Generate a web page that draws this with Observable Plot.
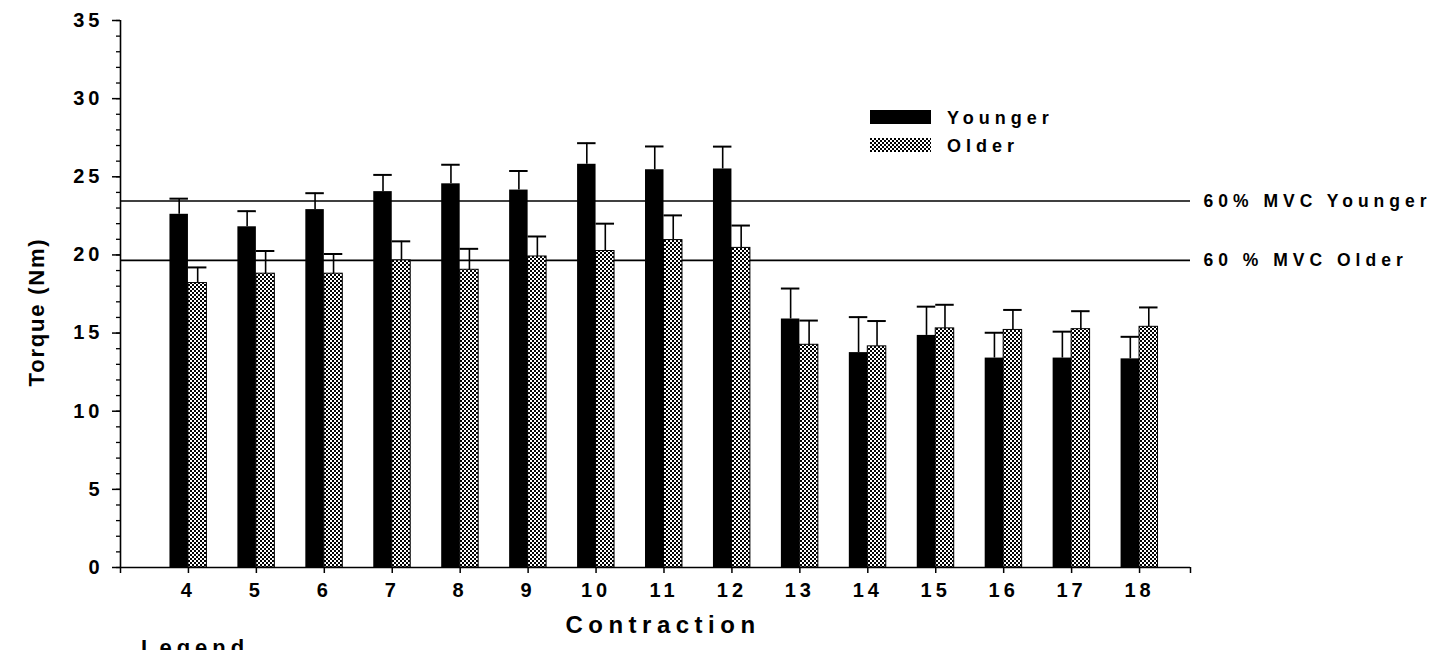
<!DOCTYPE html>
<html><head><meta charset="utf-8">
<script src="https://cdn.jsdelivr.net/npm/d3@7"></script>
<script src="https://cdn.jsdelivr.net/npm/@observablehq/plot@0.6"></script>
<style>
body{margin:0;background:#fff;}
#wrap{position:relative;width:1443px;height:650px;overflow:hidden;}
#wrap svg text{letter-spacing:5px;font-family:"Liberation Sans",Arial,sans-serif;font-weight:bold;}
</style></head><body><div id="wrap"></div>
<script>
// ---- data ----
const contractions = [4, 5, 6, 7, 8, 9, 10, 11, 12, 13, 14, 15, 16, 17, 18];
const younger    = [22.6, 21.8, 22.9, 24.05, 24.55, 24.15, 25.8, 25.45, 25.5, 15.9, 13.75, 14.85, 13.4, 13.4, 13.35];
const youngerErr = [1.0, 1.0, 1.05, 1.07, 1.22, 1.22, 1.35, 1.49, 1.43, 1.95, 2.27, 1.84, 1.62, 1.69, 1.41];
const older      = [18.2, 18.8, 18.8, 19.65, 19.05, 19.9, 20.25, 20.95, 20.45, 14.25, 14.15, 15.3, 15.2, 15.25, 15.4];
const olderErr   = [1.0, 1.45, 1.26, 1.22, 1.34, 1.28, 1.75, 1.58, 1.43, 1.55, 1.62, 1.51, 1.28, 1.15, 1.24];
const groups = ["Younger", "Older"];
const mvcValues = [23.45, 19.65];
const mvcLabels = ["60% MVC Younger", "60 % MVC Older"];
const yTicks = [0, 5, 10, 15, 20, 25, 30, 35];
const yMinorTicks = d3.range(0, 36, 1);

// ---- table built from arrays ----
const rows = contractions.flatMap((c, i) => [
  {c, group: groups[0], value: younger[i], err: youngerErr[i]},
  {c, group: groups[1], value: older[i], err: olderErr[i]}
]);
const mvc = mvcValues.map((v, i) => ({value: v, label: mvcLabels[i]}));

const X_DOMAIN = [3, 18.75];
const BAR_W = 0.272;
const barLeft = d => d.group === groups[0] ? d.c - BAR_W : d.c;
const barRight = d => d.group === groups[0] ? d.c : d.c + BAR_W;
const barMid = d => (barLeft(d) + barRight(d)) / 2;
const errTop = d => d.value + d.err;

const chart = Plot.plot({
  width: 1443, height: 650,
  marginLeft: 120, marginRight: 253, marginTop: 20, marginBottom: 83,
  x: {domain: X_DOMAIN},
  y: {domain: [0, 35]},
  style: {background: "#fff", color: "#000", fontFamily: "Liberation Sans, Arial, sans-serif"},
  marks: [
    Plot.ruleY(mvc, {y: "value", stroke: "#000", strokeWidth: 1.6}),
    Plot.ruleX(rows, {x: barMid, y1: "value", y2: errTop, stroke: "#000", strokeWidth: 1.6}),
    Plot.ruleY(rows, {x1: barLeft, x2: barRight, y: errTop, stroke: "#000", strokeWidth: 2}),
    Plot.rectY(rows.filter(d => d.group === groups[0]), {x1: barLeft, x2: barRight, y1: 0, y2: "value", fill: "#000"}),
    Plot.rectY(rows.filter(d => d.group === groups[1]), {x1: barLeft, x2: barRight, y1: 0, y2: "value", fill: "url(#dither)", stroke: "#000", strokeWidth: 1}),
    Plot.ruleX([X_DOMAIN[0]], {stroke: "#000", strokeWidth: 1.6}),
    Plot.ruleY([0], {stroke: "#000", strokeWidth: 1.6}),
    Plot.axisY({ticks: yMinorTicks, tickSize: 4, tickFormat: () => "", label: null, strokeWidth: 1.3}),
    Plot.axisY({ticks: yTicks, tickSize: 8, tickPadding: 9, fontSize: 20, fontWeight: "bold", label: null, strokeWidth: 1.5}),
    Plot.axisX({ticks: [X_DOMAIN[0], ...contractions, X_DOMAIN[1]], tickSize: 6, tickPadding: 9,
      tickFormat: d => contractions.includes(d) ? String(d) : "", fontSize: 20, fontWeight: "bold", label: null, strokeWidth: 1.5}),
    Plot.text(mvc, {frameAnchor: "right", y: "value", text: "label", textAnchor: "start", dx: 13, fontSize: 17.5, fontWeight: "bold", fill: "#000"})
  ]
});

const svg = d3.select(chart);
// enforce tick label size (numeric labels only)
svg.selectAll("text").filter(function() { return /^\d+$/.test(this.textContent.trim()); })
  .style("font-size", "20px").style("letter-spacing", "4px");

const defs = svg.insert("defs", ":first-child");
const pat = defs.append("pattern").attr("id", "dither").attr("width", 4).attr("height", 4).attr("patternUnits", "userSpaceOnUse");
pat.append("rect").attr("width", 4).attr("height", 4).attr("fill", "#fff");
pat.append("rect").attr("width", 2).attr("height", 2).attr("fill", "#000");
pat.append("rect").attr("x", 2).attr("y", 2).attr("width", 2).attr("height", 2).attr("fill", "#000");

// axis titles
svg.append("text").text("Torque (Nm)")
  .attr("transform", "translate(44,312) rotate(-90)")
  .attr("text-anchor", "middle").attr("font-size", 22).attr("style", "letter-spacing:1.8px");
svg.append("text").text("Contraction")
  .attr("x", 663).attr("y", 633).attr("text-anchor", "middle").attr("font-size", 24).attr("style", "letter-spacing:5.5px");
svg.append("text").text("Legend")
  .attr("x", 141).attr("y", 655).attr("text-anchor", "start").attr("font-size", 22).attr("style", "letter-spacing:5px");

// legend
const leg = svg.append("g");
[["#000", groups[0], 110], ["url(#dither)", groups[1], 138]].forEach(([f, label, y]) => {
  leg.append("rect").attr("x", 870).attr("y", y).attr("width", 61).attr("height", 14).attr("fill", f);
  leg.append("text").text(label).attr("x", 947).attr("y", y + 14).attr("text-anchor", "start").attr("font-size", 18);
});

document.getElementById("wrap").appendChild(chart);
</script>
</body></html>
